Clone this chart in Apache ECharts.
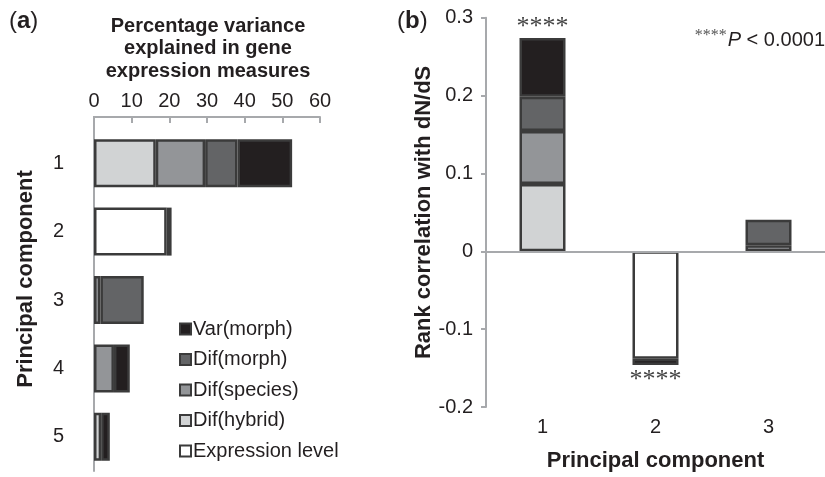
<!DOCTYPE html>
<html><head><meta charset="utf-8">
<script src="https://cdn.jsdelivr.net/npm/echarts@6/dist/echarts.min.js"></script>
<style>html,body{margin:0;padding:0;background:#fff}#c{width:825px;height:477px}</style>
</head><body><div id="c"></div>
<script>
// ---- Panel (a): percentage variance explained ----
const categoriesA = ['1', '2', '3', '4', '5'];
const expressionA = [null, 19.3, null, null, null];
const hybridA     = [16.4, null, null, null, 1.9];
const speciesA    = [13.1, null, 1.7, 5.3, null];
const morphA      = [8.6, null, 11.5, null, null];
const varA        = [14.5, 1.3, null, 4.2, 2.3];
const ticksA = [0, 10, 20, 30, 40, 50, 60];

// ---- Panel (b): rank correlation with dN/dS ----
const categoriesB = ['1', '2', '3'];
const expressionB = [null, -0.138, null];
const hybridB     = [0.0865, null, null];
const speciesB    = [0.068, null, 0.0077];
const morphB      = [0.044, null, 0.0328];
const varB        = [0.0755, -0.008, null];
const sigB        = ['****', '****', ''];

const seriesNames = ['Expression level', 'Dif(hybrid)', 'Dif(species)', 'Dif(morph)', 'Var(morph)'];
const colors = ['#ffffff', '#d1d3d4', '#939598', '#636466', '#231f20'];
const dataA = [expressionA, hybridA, speciesA, morphA, varA];
const dataB = [expressionB, hybridB, speciesB, morphB, varB];

const TXT = '#231f20', AX = '#a7a9ac', FONT = 'Liberation Sans';
const chart = echarts.init(document.getElementById('c'));

const series = [];
seriesNames.forEach((name, k) => {
  series.push({
    name, type: 'bar', stack: 'a', xAxisIndex: 0, yAxisIndex: 0,
    barWidth: 48, data: dataA[k],
    itemStyle: { color: colors[k], borderColor: '#3b3b3b', borderWidth: 2.5 }
  });
});
seriesNames.forEach((name, k) => {
  const s = {
    name, type: 'bar', stack: 'b', xAxisIndex: 1, yAxisIndex: 1,
    barWidth: 46,
    itemStyle: { color: colors[k], borderColor: '#3b3b3b', borderWidth: 2.5 },
    data: dataB[k]
  };
  if (k === 4) {
    s.data = dataB[k].map((v, i) => ({
      value: v,
      label: { show: !!sigB[i], position: v < 0 ? 'bottom' : 'top', distance: v < 0 ? 2 : -2 }
    }));
    s.label = { formatter: p => sigB[p.dataIndex], fontFamily: 'Liberation Serif', fontSize: 26, color: '#444' };
  }
  if (k === 0) {
    s.markLine = { silent: true, symbol: 'none', label: { show: false },
      lineStyle: { color: AX, width: 2, type: 'solid' }, data: [{ yAxis: 0 }] };
    s.z = 1;
  }
  series.push(s);
});

chart.setOption({
  animation: false,
  textStyle: { fontFamily: FONT, color: TXT },
  grid: [
    { left: 94, right: 505, top: 129, bottom: 6 },
    { left: 486, right: -11, top: 17.8, bottom: 67 }
  ],
  xAxis: [
    { gridIndex: 0, type: 'value', position: 'top', offset: 12, min: 0, max: 60, interval: 10,
      axisLine: { show: true, lineStyle: { color: AX, width: 2 } },
      axisTick: { show: true, inside: true, length: 6, lineStyle: { color: AX, width: 2 } },
      axisLabel: { fontSize: 20, color: TXT, margin: 6 },
      splitLine: { show: false } },
    { gridIndex: 1, type: 'category', data: categoriesB,
      axisLine: { show: false, onZero: false }, axisTick: { show: false },
      axisLabel: { fontSize: 20, color: TXT, margin: 10 },
      name: 'Principal component', nameLocation: 'middle', nameGap: 43,
      nameTextStyle: { fontSize: 22, fontWeight: 'bold', color: TXT } }
  ],
  yAxis: [
    { gridIndex: 0, type: 'category', data: categoriesA, inverse: true,
      axisLine: { show: true, lineStyle: { color: AX, width: 2 } }, axisTick: { show: false },
      axisLabel: { fontSize: 20, color: TXT, margin: 30 },
      name: 'Principal component', nameLocation: 'middle', nameGap: 57,
      nameTextStyle: { fontSize: 22, fontWeight: 'bold', color: TXT, padding: [0, 0, 0, 42] } },
    { gridIndex: 1, type: 'value', min: -0.2, max: 0.3, interval: 0.1,
      axisLine: { show: true, lineStyle: { color: AX, width: 2 } },
      axisTick: { show: true, length: 5, lineStyle: { color: AX, width: 2 } },
      axisLabel: { fontSize: 20, color: TXT, margin: 13, formatter: v => (Math.abs(v) < 1e-9 ? '0' : (+v.toFixed(1)).toString()) },
      splitLine: { show: false },
      name: 'Rank correlation with dN/dS', nameLocation: 'middle', nameGap: 49,
      nameTextStyle: { fontSize: 22, fontWeight: 'bold', color: TXT } }
  ],
  legend: {
    data: ['Var(morph)', 'Dif(morph)', 'Dif(species)', 'Dif(hybrid)', 'Expression level'],
    orient: 'vertical', left: 174, top: 314, itemWidth: 11, itemHeight: 11, itemGap: 10.5,
    icon: 'rect', textStyle: { fontSize: 20, color: TXT, padding: [0, 0, 0, -3] }
  },
  graphic: [
    { type: 'line', shape: { x1: 94, y1: 116, x2: 94, y2: 130 }, style: { stroke: AX, lineWidth: 2 } },
    { type: 'text', x: 208, y: 15, style: { text: 'Percentage variance\nexplained in gene\nexpression measures',
      font: 'bold 20px Liberation Sans', fill: TXT, textAlign: 'center', lineHeight: 22.5 } },
    { type: 'text', x: 9, y: 9, style: { text: '{n|(}{b|a}{n|)}', rich: {
      n: { font: '24px Liberation Sans', fill: TXT }, b: { font: 'bold 24px Liberation Sans', fill: TXT } } } },
    { type: 'text', x: 397, y: 9, style: { text: '{n|(}{b|b}{n|)}', rich: {
      n: { font: '24px Liberation Sans', fill: TXT }, b: { font: 'bold 24px Liberation Sans', fill: TXT } } } },
    { type: 'text', x: 825, y: 28, style: { text: '{s|****}{i|P}{n| < 0.0001}', textAlign: 'right', rich: {
      s: { font: '16px Liberation Serif', fill: '#555', verticalAlign: 'top', padding: [0, 1, 8, 0] },
      i: { font: 'italic 20px Liberation Sans', fill: TXT },
      n: { font: '20px Liberation Sans', fill: TXT } } } }
  ],
  series
});
</script></body></html>
